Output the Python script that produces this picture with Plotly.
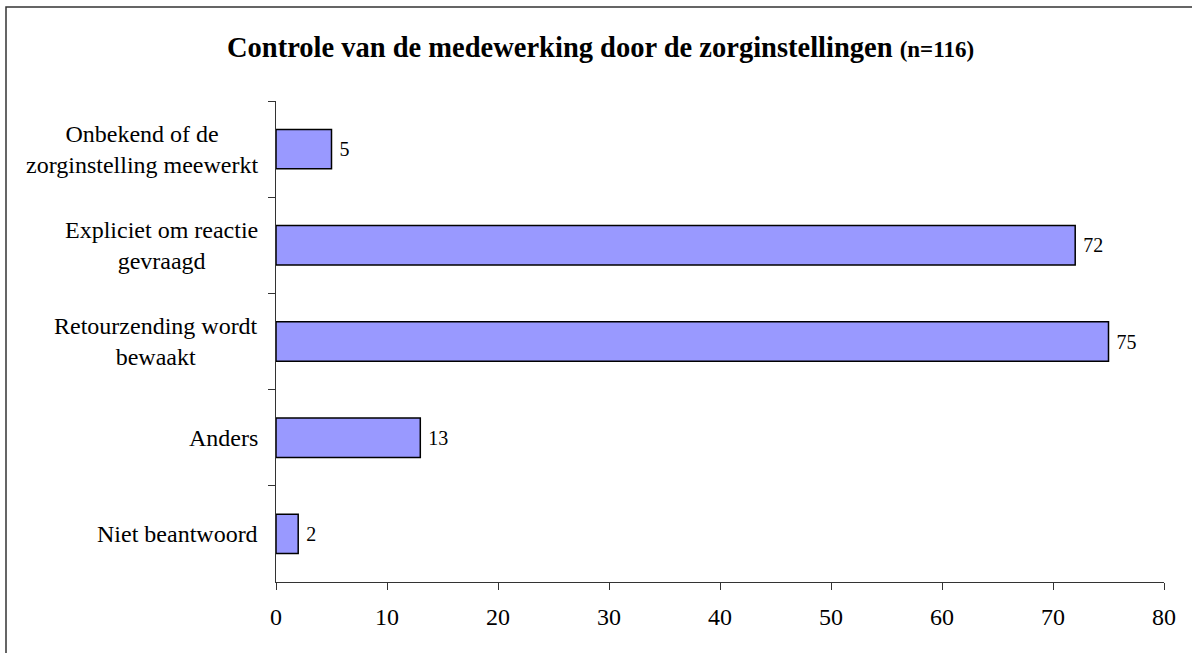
import plotly.graph_objects as go

categories = [
    "Onbekend of de<br>zorginstelling meewerkt",
    "Expliciet om reactie<br>gevraagd",
    "Retourzending wordt<br>bewaakt",
    "Anders",
    "Niet beantwoord",
]
values = [5, 72, 75, 13, 2]
x_ticks = [0, 10, 20, 30, 40, 50, 60, 70, 80]

W, H = 1192, 653
ML, MR, MT, MB = 276, 28, 101, 71
PW = W - ML - MR
PH = H - MT - MB
FONT = "Liberation Serif, Times New Roman, serif"

fig = go.Figure()
fig.add_trace(go.Bar(
    y=categories,
    x=values,
    orientation="h",
    width=0.41,
    marker=dict(color="#9999FF", line=dict(color="#000000", width=1.5)),
    text=["\u00a0" + str(v) for v in values],
    textposition="outside",
    textfont=dict(family=FONT, size=20, color="#000000"),
    cliponaxis=False,
    hoverinfo="skip",
))

annotations = []
for c in categories:
    annotations.append(dict(
        x=0, xref="paper", y=c, yref="y",
        text=c, showarrow=False, xanchor="right", yanchor="middle",
        align="center", xshift=-16,
        font=dict(family=FONT, size=24, color="#000000"),
    ))

fig.update_layout(
    width=W, height=H,
    margin=dict(l=ML, r=MR, t=MT, b=MB),
    paper_bgcolor="white",
    plot_bgcolor="white",
    showlegend=False,
    title=dict(
        text="<b>Controle van de medewerking door de zorginstellingen <span style='font-size:23px'>(n=116)</span></b>",
        font=dict(family=FONT, size=28.5, color="#000000"),
        x=227 / W, xanchor="left", xref="container",
        y=1 - 47 / H, yanchor="middle", yref="container",
    ),
    xaxis=dict(
        range=[0, 80],
        tickvals=x_ticks,
        ticktext=[str(t) for t in x_ticks],
        ticks="outside", ticklen=7, tickwidth=1, tickcolor="#333333",
        showline=True, linecolor="#333333", linewidth=1,
        showgrid=False, zeroline=False,
        tickfont=dict(family=FONT, size=24, color="#000000"),
        ticklabelstandoff=6,
    ),
    yaxis=dict(
        categoryorder="array",
        categoryarray=categories,
        autorange="reversed",
        range=[4.5, -0.5],
        ticks="outside", ticklen=7, tickwidth=1, tickcolor="#333333",
        tickson="boundaries",
        showticklabels=False,
        showline=True, linecolor="#333333", linewidth=1,
        showgrid=False, zeroline=False,
    ),
    annotations=annotations,
    shapes=[dict(
        type="rect", xref="paper", yref="paper",
        x0=(6 - ML) / PW, x1=2.0,
        y0=-2.0, y1=(H - MB - 7) / PH,
        line=dict(color="#333333", width=1.5),
        fillcolor="rgba(0,0,0,0)",
        layer="above",
    )],
)

fig.write_html("out.html")
